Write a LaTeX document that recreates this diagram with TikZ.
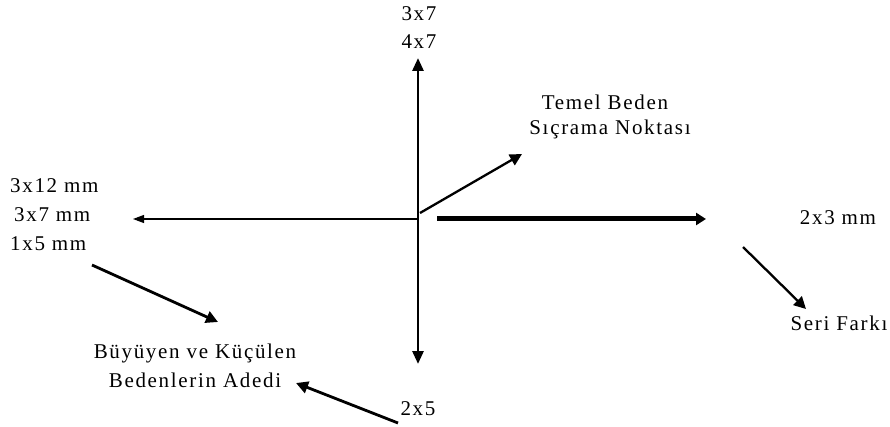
\documentclass[tikz,border=0pt]{standalone}
\usepackage{fontspec}
\setmainfont{Liberation Serif}[LetterSpace=8]
\usetikzlibrary{arrows.meta}
\begin{document}
\begin{tikzpicture}[x=1pt,y=-1pt,
  lbl/.style={inner sep=0pt,anchor=base,font=\fontsize{21}{25}\selectfont},
  axis/.style={line width=2.8pt,-{Triangle[length=13pt,width=11pt]}},
  thinaxis/.style={line width=1.1pt,-{Triangle[length=11pt,width=8pt]}},
  thickaxis/.style={line width=5pt,-{Triangle[length=10pt,width=12pt]}},
  pointer/.style={line width=2.8pt,-{Triangle[length=12pt,width=12pt]}}]
\useasboundingbox[fill=white] (0,0) rectangle (890,427);
% text
\node[lbl] (t37) at (419,21) {3x7};
\node[lbl] (t47) at (419,49) {4x7};
\node[lbl] (temel) at (605,110) {Temel Beden};
\node[lbl] (sicrama) at (610,135) {Sıçrama Noktası};
\node[lbl,anchor=base west] (l1) at (10,193) {3x12 mm};
\node[lbl,anchor=base west] (l2) at (14,222) {3x7 mm};
\node[lbl,anchor=base west] (l3) at (10,251) {1x5 mm};
\node[lbl] (r1) at (838,225) {2x3 mm};
\node[lbl] (seri) at (839,330) {Seri Farkı};
\node[lbl] (buy) at (195,358) {Büyüyen ve Küçülen};
\node[lbl] (bed) at (195,387) {Bedenlerin Adedi};
\node[lbl] (t25) at (418,415) {2x5};
% coordinates
\coordinate (o) at (418,219);
\coordinate (top) at (418,58);
\coordinate (bot) at (418,364);
\coordinate (left) at (133,219);
\coordinate (rs) at (437,219);
\coordinate (re) at (706,219);
\coordinate (ds) at (420,213);
\coordinate (de) at (522,154);
\coordinate (s1) at (92,265);
\coordinate (e1) at (218,322);
\coordinate (s2) at (743,247);
\coordinate (e2) at (806,309);
\coordinate (s3) at (398,423);
\coordinate (e3) at (296,383);
% connectors
\draw[axis] (o) -- (top);
\draw[axis] (o) -- (bot);
\draw[thinaxis] (o) -- (left);
\draw[thickaxis] (rs) -- (re);
\draw[pointer,line width=2.3pt] (ds) -- (de);
\draw[pointer] (s1) -- (e1);
\draw[pointer,line width=2.3pt] (s2) -- (e2);
\draw[pointer] (s3) -- (e3);
\end{tikzpicture}
\end{document}
